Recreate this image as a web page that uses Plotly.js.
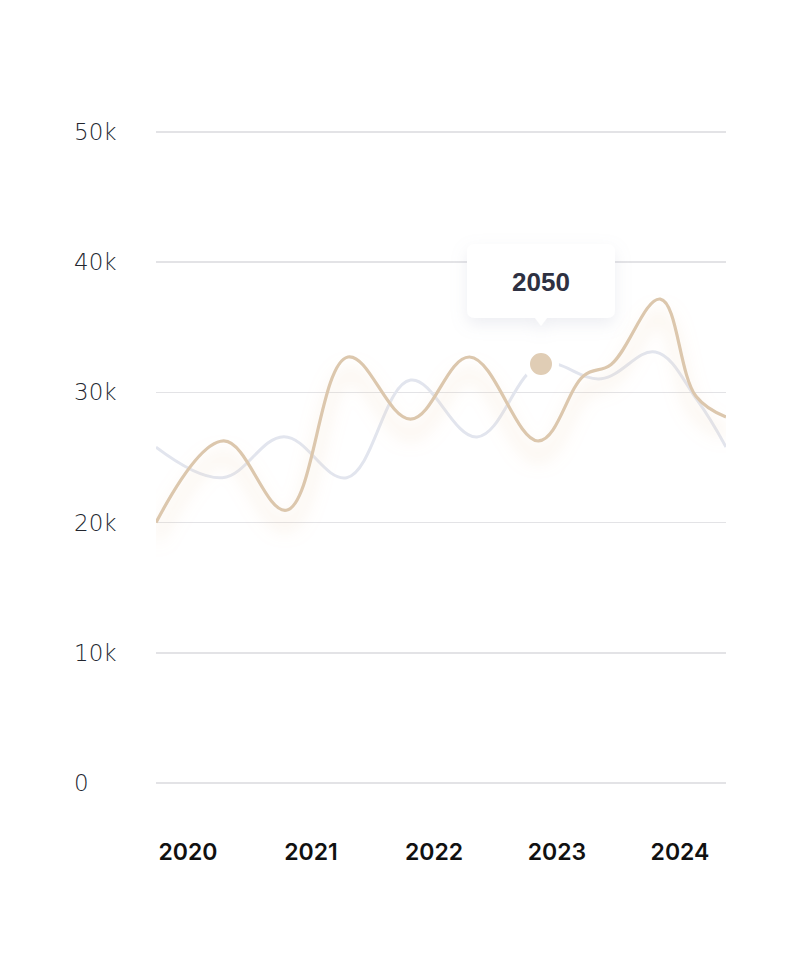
<!DOCTYPE html>
<html>
<head>
<meta charset="utf-8">
<script src="https://cdn.plot.ly/plotly-3.0.1.min.js"></script>
<style>
  html, body { margin: 0; padding: 0; background: #ffffff; }
  #chart { width: 800px; height: 967px; }
</style>
</head>
<body>
<div id="chart"></div>
<script>
// ---- data ----
const yearTicks = [2020, 2021, 2022, 2023, 2024];
const yearLabels = ['2020', '2021', '2022', '2023', '2024'];
const yTickVals = [0, 10000, 20000, 30000, 40000, 50000];
const yTickLabels = ['0', '10k', '20k', '30k', '40k', '50k'];

const tanX = [2019.74, 2020.29, 2020.80, 2021.30, 2021.81, 2022.29, 2022.85, 2023.22, 2023.44, 2023.84, 2024.13, 2024.374];
const tanY = [20000, 26270, 20950, 32720, 27950, 32720, 26270, 31300, 32150, 37170, 29700, 28110];

const greyX = [2019.74, 2020.28, 2020.78, 2021.29, 2021.81, 2022.35, 2022.87, 2023.36, 2023.80, 2024.14, 2024.374];
const greyY = [25800, 23450, 26600, 23450, 30950, 26580, 32180, 31050, 33100, 29400, 25800];

const pointX = [2022.87];
const pointY = [32180];
const pointLabel = ['2050'];

// ---- chart ----
const traces = [
  {
    x: greyX, y: greyY, type: 'scatter', mode: 'lines',
    line: { shape: 'spline', smoothing: 1.1, color: '#e2e5ee', width: 3 },
    hoverinfo: 'skip'
  },
  {
    x: tanX, y: tanY, type: 'scatter', mode: 'lines',
    line: { shape: 'spline', smoothing: 1.1, color: '#dcc7ad', width: 3.2 },
    hoverinfo: 'skip'
  },
  {
    x: pointX, y: pointY, type: 'scatter', mode: 'markers',
    marker: { size: 29, color: '#e0cdb5', line: { color: '#ffffff', width: 7 } },
    hoverinfo: 'skip'
  }
];

const yAnn = yTickVals.map((v, i) => ({
  xref: 'paper', yref: 'y', x: -0.1465, y: v, xanchor: 'left', yanchor: 'middle',
  text: yTickLabels[i], showarrow: false,
  font: { family: '"DejaVu Sans", sans-serif', size: 23, color: '#22252e', weight: 300 }
}));

const layout = {
  width: 800, height: 967,
  paper_bgcolor: '#ffffff', plot_bgcolor: '#ffffff',
  margin: { l: 156, r: 74, t: 119, b: 171 },
  showlegend: false,
  xaxis: {
    range: [2019.74, 2024.374],
    tickvals: yearTicks, ticktext: yearLabels,
    showgrid: false, zeroline: false, showline: false, ticks: '',
    ticklabelstandoff: 40,
    tickfont: { family: 'Inter, "Liberation Sans", Arial, sans-serif', size: 23, color: '#111111', weight: 600 }
  },
  yaxis: {
    range: [-1000, 51000],
    tickvals: yTickVals, showticklabels: false,
    showgrid: true, gridcolor: '#e3e3e6', gridwidth: 1.5,
    zeroline: false, showline: false, ticks: ''
  },
  shapes: [
    {
      type: 'path', layer: 'above',
      xref: 'x', yref: 'y', xsizemode: 'pixel', ysizemode: 'pixel',
      xanchor: pointX[0], yanchor: pointY[0],
      path: 'M -66 46 L -6 46 L 0 38 L 6 46 L 66 46 Q 74 46 74 54 L 74 112 Q 74 120 66 120 L -66 120 Q -74 120 -74 112 L -74 54 Q -74 46 -66 46 Z',
      fillcolor: '#ffffff', line: { width: 0 }
    }
  ],
  annotations: yAnn.concat([
    {
      xref: 'x', yref: 'y', x: pointX[0], y: pointY[0], yshift: 82,
      text: pointLabel[0], showarrow: false, xanchor: 'center', yanchor: 'middle',
      font: { family: '"Liberation Sans", Arial, sans-serif', size: 26, color: '#2e3142', weight: 'bold' }
    }
  ])
};

Plotly.newPlot('chart', traces, layout, { staticPlot: true, displayModeBar: false }).then(function (gd) {
  const svg = gd.querySelector('svg.main-svg');
  const NS = 'http://www.w3.org/2000/svg';
  let defs = svg.querySelector('defs');
  if (!defs) { defs = document.createElementNS(NS, 'defs'); svg.insertBefore(defs, svg.firstChild); }
  defs.insertAdjacentHTML('beforeend',
    '<filter id="tanGlow" x="-20%" y="-50%" width="140%" height="220%">' +
      '<feGaussianBlur in="SourceAlpha" stdDeviation="9" result="b"/>' +
      '<feOffset in="b" dx="0" dy="16" result="o"/>' +
      '<feFlood flood-color="#e9c9a0" flood-opacity="0.7"/>' +
      '<feComposite in2="o" operator="in" result="s"/>' +
      '<feMerge><feMergeNode in="s"/><feMergeNode in="SourceGraphic"/></feMerge>' +
    '</filter>' +
    '<filter id="boxShadow" x="-30%" y="-40%" width="160%" height="200%">' +
      '<feDropShadow dx="0" dy="6" stdDeviation="8" flood-color="#9aa0b8" flood-opacity="0.18"/>' +
    '</filter>');
  const lines = gd.querySelectorAll('.scatterlayer .trace path.js-line');
  if (lines[1]) lines[1].setAttribute('filter', 'url(#tanGlow)');
  const shp = gd.querySelectorAll('.shapelayer path');
  shp.forEach(p => p.setAttribute('filter', 'url(#boxShadow)'));
});
</script>
</body>
</html>
